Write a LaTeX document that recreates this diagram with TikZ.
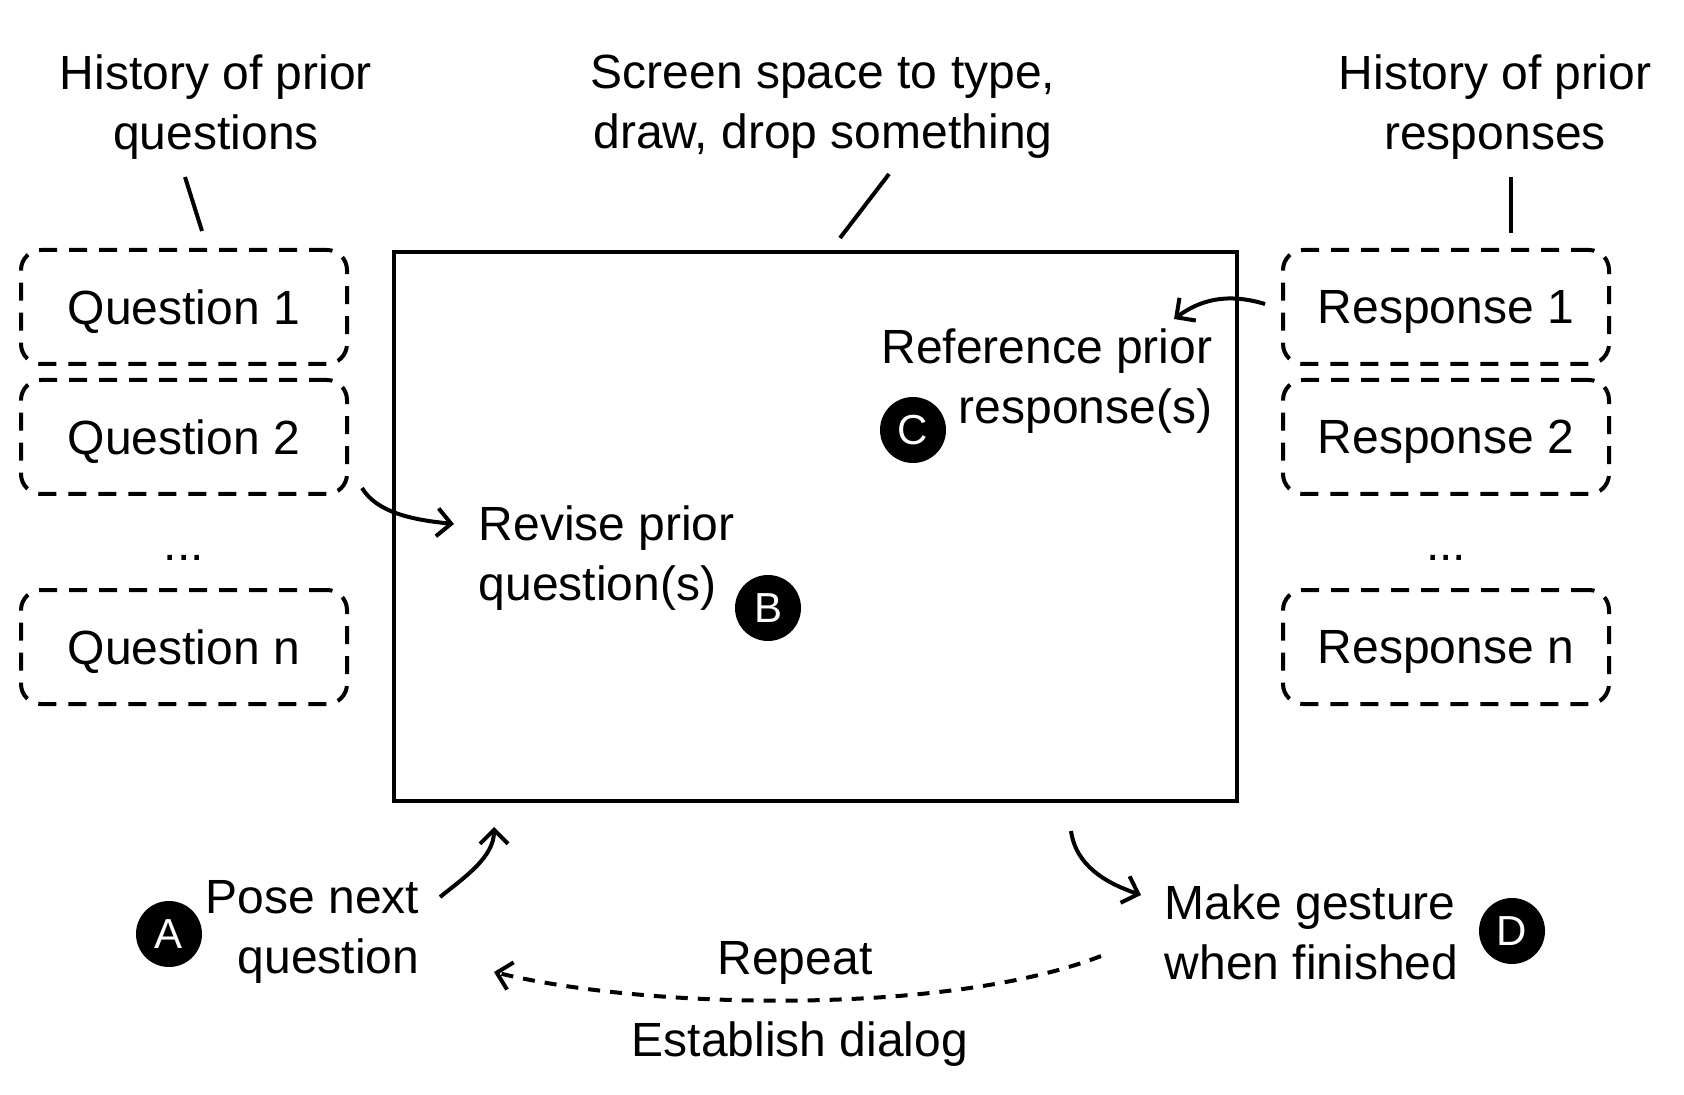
\documentclass[tikz,border=0pt]{standalone}
\usepackage{fontspec}
\setmainfont{Liberation Sans}
\usetikzlibrary{arrows.meta}

\tikzset{
  hist/.style={draw, dash pattern=on 9pt off 6pt, rounded corners=10pt,
    minimum width=163pt, minimum height=57pt, text depth=-4pt},
  badge/.style={circle, fill=black, text=white, minimum size=33pt,
    inner sep=0pt, font=\fontsize{21}{21}\selectfont},
  note/.style={align=center},
}

\begin{document}
\begin{tikzpicture}[x=0.5pt, y=-0.5pt, line width=2pt,
    font=\fontsize{24}{30}\selectfont,
    >={Straight Barb[length=7pt,width=14pt]}]
  \useasboundingbox (0,0) rectangle (1684,1095);
  % Top labels
  \node[note] (hq) at (216,107) {History of prior\\questions};
  \node[note] (hs) at (823,107) {Screen space to type,\\draw, drop something};
  \node[note] (hr) at (1495,107) {History of prior\\responses};
  \coordinate (hq-a) at (185,177); \coordinate (hq-b) at (202,231);
  \coordinate (hs-a) at (889,174); \coordinate (hs-b) at (840,238);
  \coordinate (hr-a) at (1511,177); \coordinate (hr-b) at (1511,233);
  \draw (hq-a) -- (hq-b);
  \draw (hs-a) -- (hs-b);
  \draw (hr-a) -- (hr-b);
  % Screen
  \node[draw, minimum width=421.5pt, minimum height=274.5pt] (scr) at (815.5,526.5) {};
  % Questions
  \node[hist] (q1) at (184,307) {Question 1};
  \node[hist] (q2) at (184,437) {Question 2};
  \node[anchor=base] (qdots) at (184,560) {...};
  \node[hist] (qn) at (184,647) {Question n};
  % Responses
  \node[hist] (r1) at (1446,307) {Response 1};
  \node[hist] (r2) at (1446,437) {Response 2};
  \node[anchor=base] (rdots) at (1446,560) {...};
  \node[hist] (rn) at (1446,647) {Response n};
  % Inside the screen
  \node[note, align=right, anchor=east] (refp) at (1221,381) {Reference prior\\response(s)};
  \node[badge] (bc) at (913,430) {C};
  \node[note, align=left, anchor=west] (rev) at (470,558) {Revise prior\\question(s)};
  \node[badge] (bb) at (768,608) {B};
  % Below the screen
  \node[note, align=right, anchor=east] (pose) at (428,932) {Pose next\\question};
  \node[badge] (ba) at (169,934) {A};
  \node[note, align=left, anchor=west] (make) at (1156,932) {Make gesture\\when finished};
  \node[badge] (bd) at (1512,931) {D};
  \node (rep) at (795,963) {Repeat};
  \node (est) at (800,1044) {Establish dialog};
  % Arrows
  \draw[->] ([shift={(13,-8)}]q2.south east)
      .. controls +(15,25) and +(-40,-4) .. ([shift={(-16,-34)}]rev.west);
  \draw[->] ([shift={(-16,-3)}]r1.west)
      .. controls +(-40,-12) and +(25,-18) .. ([shift={(-47,-62)}]refp.east);
  \draw[->] ([shift={(12,-35)}]pose.east)
      .. controls +(25,-20) and +(0,30) .. ([shift={(102,24)}]scr.south west);
  \draw[->] ([shift={(-168,28)}]scr.south east)
      .. controls +(5,35) and +(-35,-12) .. ([shift={(-15,-37)}]make.west);
  \draw[->, dash pattern=on 6pt off 5pt] ([shift={(-55,24)}]make.west)
      .. controls +(-151,59) and +(156,38) .. ([shift={(66,40)}]pose.east);
\end{tikzpicture}
\end{document}
